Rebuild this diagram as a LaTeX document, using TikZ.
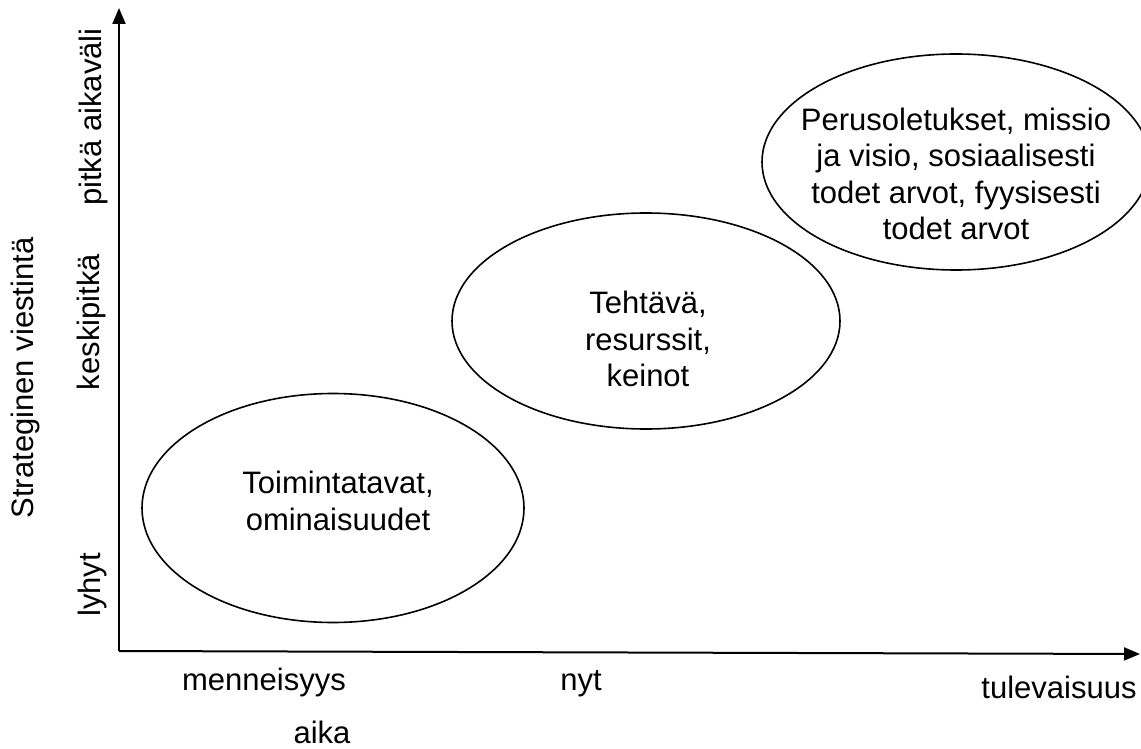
\documentclass[tikz,border=0pt]{standalone}
\usepackage{fontspec}
\setmainfont{Liberation Sans}
\usetikzlibrary{arrows.meta,shapes.geometric}
\begin{document}
\begin{tikzpicture}[x=1pt,y=-1pt,
  axisline/.style={line width=2pt,-{Triangle[length=16pt,width=13pt]}},
  blob/.style={draw,line width=1.6pt,ellipse,inner sep=0pt},
  txt/.style={font=\fontsize{31}{36.5}\selectfont,align=center,inner sep=0pt},
  vlabel/.style={font=\fontsize{31}{36.5}\selectfont,rotate=90,anchor=base,inner sep=0pt},
  hlabel/.style={font=\fontsize{31}{36.5}\selectfont,anchor=base,inner sep=0pt}]
\useasboundingbox (0,0) rectangle (1141,749);
\clip (0,0) rectangle (1141,749);

% axes
\coordinate (origin) at (119,651);
\coordinate (ytip) at (119,8);
\coordinate (xtip) at (1140,654);
\draw[axisline] (origin) -- (ytip);
\draw[axisline] (origin) -- (xtip);

% ellipses
\node[blob,minimum width=382pt,minimum height=229pt] (short) at (333,508) {};
\node[blob,minimum width=388pt,minimum height=216pt] (mid) at (646,321) {};
\node[blob,minimum width=388pt,minimum height=216pt] (long) at (956,162) {};

% ellipse texts
\node[txt] (shorttxt) at (338,501) {Toimintatavat,\\ominaisuudet};
\node[txt] (midtxt) at (648,339) {Tehtävä,\\resurssit,\\keinot};
\node[txt] (longtxt) at (956,174) {Perusoletukset, missio\\ja visio, sosiaalisesti\\todet arvot, fyysisesti\\todet arvot};

% vertical axis labels
\node[vlabel] (lyhyt) at (100,585) {lyhyt};
\node[vlabel] (keski) at (99,322) {keskipitkä};
\node[vlabel] (pitka) at (101,117) {pitkä aikaväli};
\node[vlabel] (ytitle) at (33,378) {Strateginen viestintä};

% horizontal axis labels
\node[hlabel] (past) at (264,690) {menneisyys};
\node[hlabel] (now) at (581,690) {nyt};
\node[hlabel] (future) at (1059,698) {tulevaisuus};
\node[hlabel] (xtitle) at (322,743) {aika};
\end{tikzpicture}
\end{document}
